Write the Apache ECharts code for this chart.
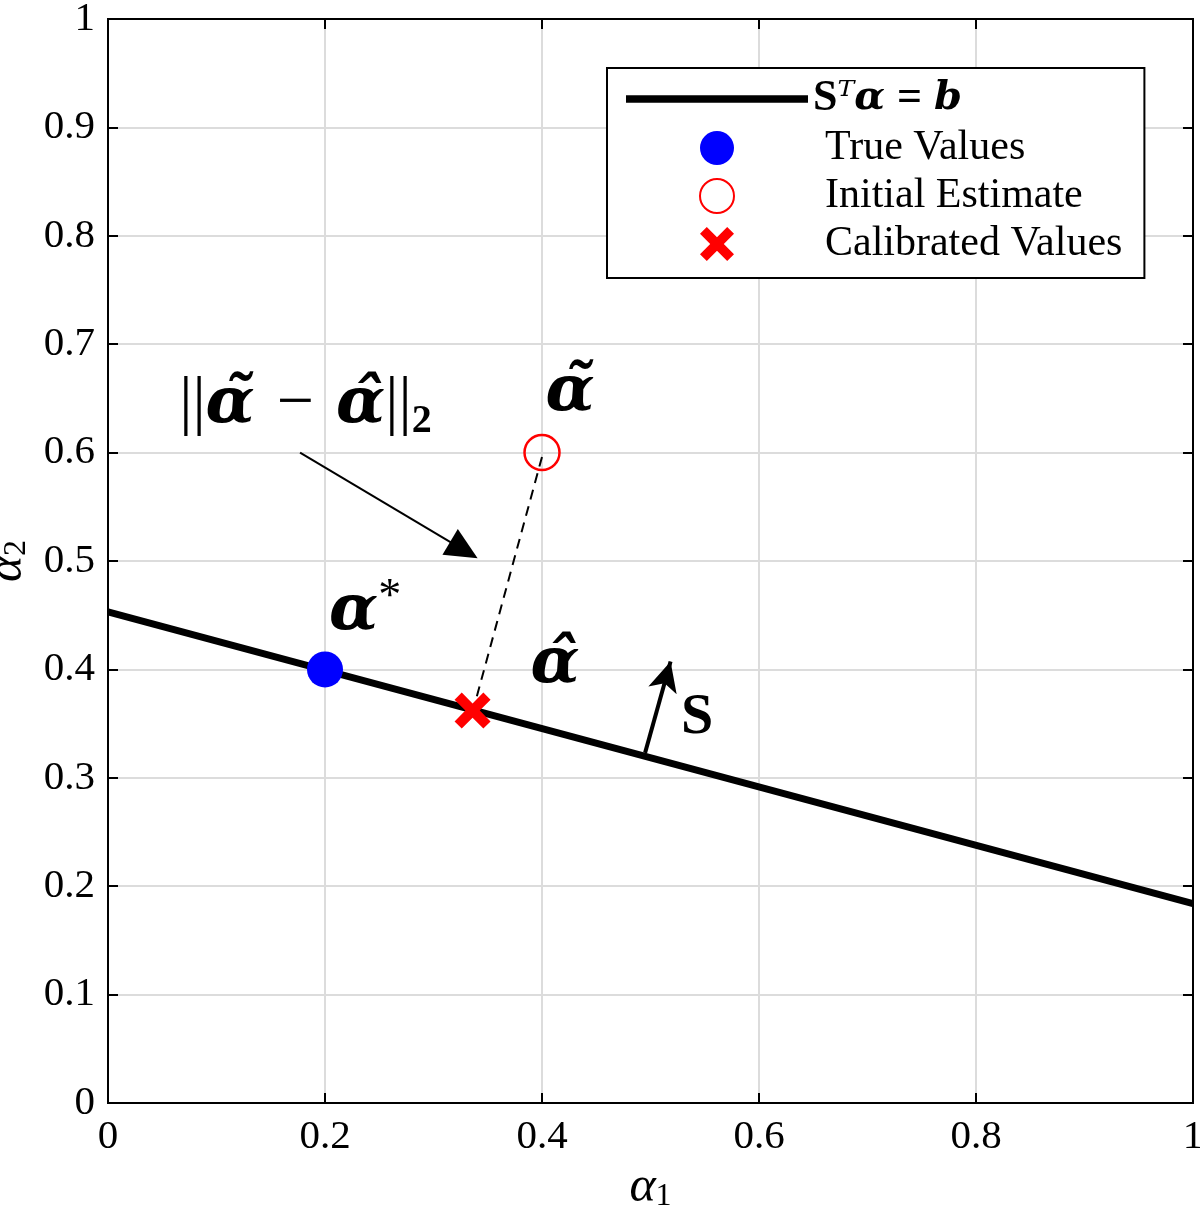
<!DOCTYPE html>
<html lang="en">
<head>
<meta charset="UTF-8">
<title>Calibration</title>
<script src="https://cdn.jsdelivr.net/npm/echarts@6/dist/echarts.min.js"></script>
<style>
    * { margin: 0; padding: 0; }
    #chart { width: 1200px; height: 1211px; }
</style>
</head>
<body>
<div id="chart"></div>
<script>
    // constraint line S^T a = b
    const lineX = [0, 1]
    const lineY = [0.453, 0.184]
    // markers
    const truePoint = [0.2, 0.4]
    const initPoint = [0.4, 0.6]
    const calPoint = [0.336, 0.362]
    // dashed distance line
    const projX = [0.4, 0.338]
    const projY = [0.596, 0.368]
    // arrows [x0, y0, x1, y1]
    const normArrow = [0.177, 0.6, 0.328, 0.510]
    const sArrow = [0.495, 0.323, 0.5185, 0.4073]
    // annotations
    const noteX = [0.182, 0.426, 0.237, 0.412, 0.543]
    const noteY = [0.644, 0.655, 0.453, 0.404, 0.355]
    const noteText = [
        '{r|||}{bi|α̃}{m|−}{bi|α̂}{r|||}{sub|2}',
        '{bi|α̃}',
        '{bi|α}{sup|*}',
        '{bi|α̂}',
        '{b|S}'
    ]
    const legendNames = ['constraint', 'True Values', 'Initial Estimate', 'Calibrated Values']

    const serif = 'Liberation Serif'
    const greek = 'DejaVu Serif'
    const crossPath = 'path://M4,0 L10,6 L16,0 L20,4 L14,10 L20,16 L16,20 L10,14 L4,20 L0,16 L6,10 L0,4 Z'

    const chart = echarts.init(document.getElementById('chart'))

    const nameRich = {
        i: { fontFamily: serif, fontSize: 50, fontStyle: 'italic', color: '#000', lineHeight: 50 },
        s: { fontFamily: serif, fontSize: 32, color: '#000', verticalAlign: 'bottom', lineHeight: 32 }
    }
    const axisLine = { show: true, onZero: false, lineStyle: { color: '#000', width: 2 } }
    const axisTick = { show: true, inside: true, length: 10, lineStyle: { color: '#000', width: 2 } }
    const axisLabel = { color: '#000', fontFamily: serif, fontSize: 41 }
    const splitLine = { show: true, lineStyle: { color: '#dcdcdc', width: 2 } }

    const mathRich = {
        r: { fontFamily: serif, fontSize: 66, color: '#000', lineHeight: 74 },
        m: { fontFamily: serif, fontSize: 66, color: '#000', lineHeight: 74, padding: [0, 22, 0, 22] },
        bi: { fontFamily: greek, fontSize: 64, fontWeight: 'bold', fontStyle: 'italic', color: '#000', lineHeight: 74 },
        b: { fontFamily: serif, fontSize: 58, fontWeight: 'bold', color: '#000', lineHeight: 74 },
        sub: { fontFamily: serif, fontSize: 40, fontWeight: 'bold', color: '#000', verticalAlign: 'bottom', lineHeight: 40 },
        sup: { fontFamily: serif, fontSize: 46, color: '#000', verticalAlign: 'top', lineHeight: 46 }
    }

    const option = {
        animation: false,
        grid: {
            left: 108, right: 7, top: 19, bottom: 108,
            containLabel: false,
            outerBoundsMode: 'none',
            show: true, borderColor: '#000', borderWidth: 2
        },
        xAxis: [
            {
                type: 'value', min: 0, max: 1, interval: 0.2,
                name: '{i|α}{s|1}', nameLocation: 'middle', nameGap: 59,
                nameTextStyle: { rich: nameRich },
                axisLine: axisLine, axisTick: axisTick, splitLine: splitLine,
                axisLabel: Object.assign({}, axisLabel, { margin: 14 })
            },
            {
                type: 'value', min: 0, max: 1, interval: 0.2, position: 'top',
                axisLine: axisLine, axisTick: axisTick,
                axisLabel: { show: false }, splitLine: { show: false }
            }
        ],
        yAxis: [
            {
                type: 'value', min: 0, max: 1, interval: 0.1,
                name: '{i|α}{s|2}', nameLocation: 'middle', nameGap: 70,
                nameTextStyle: { rich: nameRich },
                axisLine: axisLine, axisTick: axisTick, splitLine: splitLine,
                axisLabel: Object.assign({}, axisLabel, { margin: 13 })
            },
            {
                type: 'value', min: 0, max: 1, interval: 0.1, position: 'right',
                axisLine: axisLine, axisTick: axisTick,
                axisLabel: { show: false }, splitLine: { show: false }
            }
        ],
        legend: {
            left: 607,
            top: 68,
            orient: 'vertical',
            data: [
                { name: legendNames[0], icon: 'path://M0,0H100V4H0Z' },
                legendNames[1], legendNames[2], legendNames[3]
            ],
            itemWidth: 182,
            itemHeight: 34,
            itemGap: 6,
            padding: [9, 22, 13, 19],
            backgroundColor: '#fff',
            borderColor: '#000',
            borderWidth: 2,
            selectedMode: false,
            formatter: function (name) {
                if (name === legendNames[0]) return '{b|S}{supu|ᵀ}{bi|α}{eq|=}{bi|b}'
                return '{gap| }{t|' + name + '}'
            },
            textStyle: {
                fontFamily: serif, fontSize: 42, color: '#000', lineHeight: 34,
                rich: {
                    t: { fontFamily: serif, fontSize: 42, color: '#000', lineHeight: 34 },
                    gap: { fontFamily: serif, fontSize: 42, width: 12, lineHeight: 34 },
                    b: { fontFamily: serif, fontSize: 44, fontWeight: 'bold', color: '#000', lineHeight: 34 },
                    eq: { fontFamily: serif, fontSize: 44, fontWeight: 'bold', color: '#000', lineHeight: 34, padding: [0, 12, 0, 12] },
                    bi: { fontFamily: greek, fontSize: 40, fontWeight: 'bold', fontStyle: 'italic', color: '#000', lineHeight: 34 },
                    supu: { fontFamily: greek, fontSize: 40, fontStyle: 'italic', color: '#000', lineHeight: 34 }
                }
            }
        },
        series: [
            {
                name: legendNames[0],
                type: 'line',
                color: '#000',
                data: lineX.map((x, i) => [x, lineY[i]]),
                symbol: 'none',
                lineStyle: { color: '#000', width: 7 },
                silent: true,
                z: 2
            },
            {
                name: 'proj',
                type: 'line',
                data: projX.map((x, i) => [x, projY[i]]),
                symbol: 'none',
                lineStyle: { color: '#000', width: 2, type: [10, 7] },
                silent: true,
                z: 3,
                markLine: {
                    silent: true,
                    animation: false,
                    label: { show: false },
                    data: [
                        [
                            { coord: [normArrow[0], normArrow[1]], symbol: 'none' },
                            { coord: [normArrow[2], normArrow[3]], symbol: 'triangle', symbolSize: [30, 32] }
                        ],
                        [
                            { coord: [sArrow[0], sArrow[1]], symbol: 'none', lineStyle: { width: 4 } },
                            { coord: [sArrow[2], sArrow[3]], symbol: 'arrow', symbolSize: [22, 30] }
                        ]
                    ],
                    lineStyle: { color: '#000', width: 2, type: 'solid' }
                }
            },
            {
                name: legendNames[1],
                type: 'scatter',
                data: [truePoint],
                symbol: 'circle',
                symbolSize: 36,
                itemStyle: { color: '#0000ff', opacity: 1 },
                silent: true,
                z: 4
            },
            {
                name: legendNames[2],
                type: 'scatter',
                data: [initPoint],
                symbol: 'circle',
                symbolSize: 35,
                itemStyle: { color: 'rgba(255,255,255,0)', borderColor: '#ff0000', borderWidth: 2.5, opacity: 1 },
                silent: true,
                z: 4
            },
            {
                name: legendNames[3],
                type: 'scatter',
                data: [calPoint],
                symbol: crossPath,
                symbolSize: 36,
                itemStyle: { color: '#ff0000', opacity: 1 },
                silent: true,
                z: 5
            },
            {
                name: 'notes',
                type: 'scatter',
                data: noteX.map((x, i) => ({ value: [x, noteY[i]], label: { formatter: noteText[i] } })),
                symbolSize: 0,
                itemStyle: { opacity: 1 },
                silent: true,
                z: 6,
                label: {
                    show: true,
                    position: 'inside',
                    color: '#000',
                    rich: mathRich
                }
            }
        ]
    }

    chart.setOption(option)
</script>
</body>
</html>
